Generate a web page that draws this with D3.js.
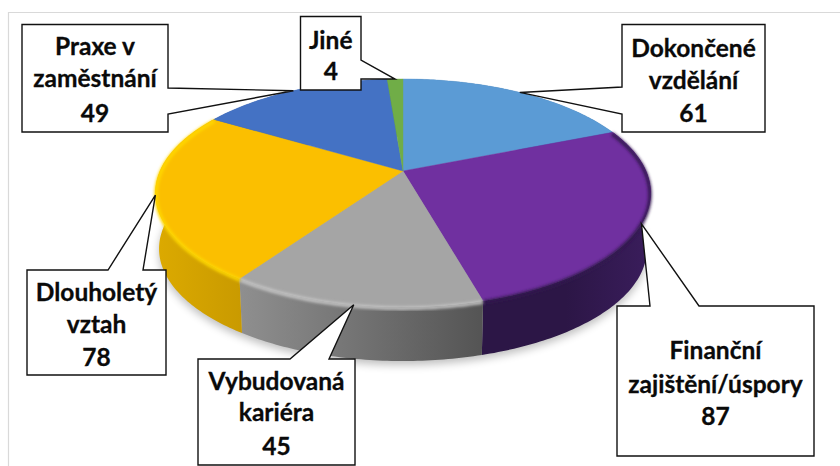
<!DOCTYPE html>
<html><head><meta charset="utf-8">
<script src="https://cdn.jsdelivr.net/npm/d3@7"></script>
<style>html,body{margin:0;padding:0;background:#fff}svg{display:block}</style>
</head><body><svg id="c" width="840" height="466"></svg>
<script>
const categories = ["Dokončené vzdělání","Finanční zajištění/úspory","Vybudovaná kariéra","Dlouholetý vztah","Praxe v zaměstnání","Jiné"];
const values = [61,87,45,78,49,4];
const labelLines = [["Dokončené","vzdělání","61"],["Finanční","zajištění/úspory","87"],["Vybudovaná","kariéra","45"],["Dlouholetý","vztah","78"],["Praxe v","zaměstnání","49"],["Jiné","4"]];
const topColors = ["#5B9BD5","#7030A0","#A5A5A5","#FBBF00","#4472C4","#70AD47"];
const sideStops = [["#3f74a4","#3f74a4"],["#2c1646","#2c1646","#3a1d5c"],["#8f8f8f","#727272","#545454"],["#dcaa00","#c99a00"],["#2f5597","#2f5597"],["#4e7a31","#4e7a31"]];
const rimColors = [null,"#331950","#c6c6c6","#ffd800",null,null];
// [x0,y0,x1,y1, side, p0, p1]
const boxes = [
 [622,24.5,765,132,"left",87,114],
 [617,306,814,456,"top",650,699],
 [198,359,355,465,"top",290,329],
 [27,270,166,375,"top",108,143],
 [22,24.5,168,132,"right",88,114],
 [300.5,16.5,361,90,"right",60,79]];
const textY = [[57,89,122],[359,393,425],[390,421,455],[301,333,366],[55,87,122],[49,80]];

const svg = d3.select("#c");
const defs = svg.append("defs");
defs.append("filter").attr("id","b1").attr("x","-10%").attr("y","-10%").attr("width","120%").attr("height","120%")
  .append("feGaussianBlur").attr("stdDeviation",1.5);
defs.append("filter").attr("id","b5").attr("x","-10%").attr("y","-10%").attr("width","120%").attr("height","130%")
  .append("feGaussianBlur").attr("stdDeviation",4);

const apex = {x:403,y:171}, S = 243, Q = 109.8, P = -0.193;
function project(t, k=1, dy=0){
  const x=Math.sin(t), y=-Math.cos(t), d=1+P*y;
  return [apex.x + k*S*x/d, apex.y + dy + k*Q*y/d];
}
const arcPts=(a0,a1,k,dy)=>{
  const n=Math.max(2,Math.ceil((a1-a0)/0.015));
  return d3.range(n+1).map(i=>project(a0+(a1-a0)*i/n,k,dy));
};
const line=d3.line();
const pie=d3.pie().sort(null).startAngle(0).endAngle(2*Math.PI);
const arcs=pie(values);
const K2=0.985, DY=56;

svg.append("path").attr("d","M8.5,466V12.5H840").attr("fill","none").attr("stroke","#d9d9d9").attr("stroke-width",1.2);
svg.append("path").attr("d",line(arcPts(0,2*Math.PI,K2,DY+4))+"Z").attr("fill","#000").attr("opacity",.25).attr("filter","url(#b5)");

arcs.forEach((a,i)=>{
  const top=arcPts(a.startAngle,a.endAngle,1,0), bot=arcPts(a.startAngle,a.endAngle,K2,DY);
  const xs=top.concat(bot).map(p=>p[0]);
  const g=defs.append("linearGradient").attr("id","s"+i).attr("gradientUnits","userSpaceOnUse")
    .attr("x1",d3.min(xs)).attr("x2",d3.max(xs)).attr("y1",0).attr("y2",0);
  sideStops[i].forEach((c,j,st)=>g.append("stop").attr("offset",j/(st.length-1)).attr("stop-color",c));
  svg.append("path").attr("d",line(top.concat(bot.reverse()))+"Z").attr("fill",`url(#s${i})`);
});
arcs.forEach((a,i)=>{
  svg.append("path").attr("d",line([[apex.x,apex.y]].concat(arcPts(a.startAngle,a.endAngle,1,0)))+"Z")
    .attr("fill",topColors[i]).attr("stroke",topColors[i]).attr("stroke-width",.4);
});
arcs.forEach((a,i)=>{
  if(!rimColors[i])return;
  svg.append("path").attr("d",line(arcPts(Math.max(a.startAngle,1.0),a.endAngle,.997,1.5)))
    .attr("fill","none").attr("stroke",rimColors[i]).attr("stroke-width",3.5).attr("filter","url(#b1)");
});
arcs.forEach((a,i)=>{
  const [x0,y0,x1,y1,side,p0,p1]=boxes[i];
  const tip=project((a.startAngle+a.endAngle)/2);
  let pts;
  if(side=="top") pts=[[x0,y0],[p0,y0],tip,[p1,y0],[x1,y0],[x1,y1],[x0,y1]];
  if(side=="left") pts=[[x0,y0],[x1,y0],[x1,y1],[x0,y1],[x0,p1],tip,[x0,p0]];
  if(side=="right") pts=[[x0,y0],[x1,y0],[x1,p0],tip,[x1,p1],[x1,y1],[x0,y1]];
  svg.append("path").attr("d",line(pts)+"Z").attr("fill","#fff").attr("stroke","#111").attr("stroke-width",1.4);
  labelLines[i].forEach((t,j)=>{
    svg.append("text").attr("x",(x0+x1)/2).attr("y",textY[i][j]).attr("text-anchor","middle")
      .attr("font-family","Lato, 'Open Sans', sans-serif").attr("font-weight",700).attr("font-size",24.5)
      .attr("fill","#0a0a0a").attr("stroke","#0a0a0a").attr("stroke-width",.3).text(t);
  });
});
</script></body></html>
